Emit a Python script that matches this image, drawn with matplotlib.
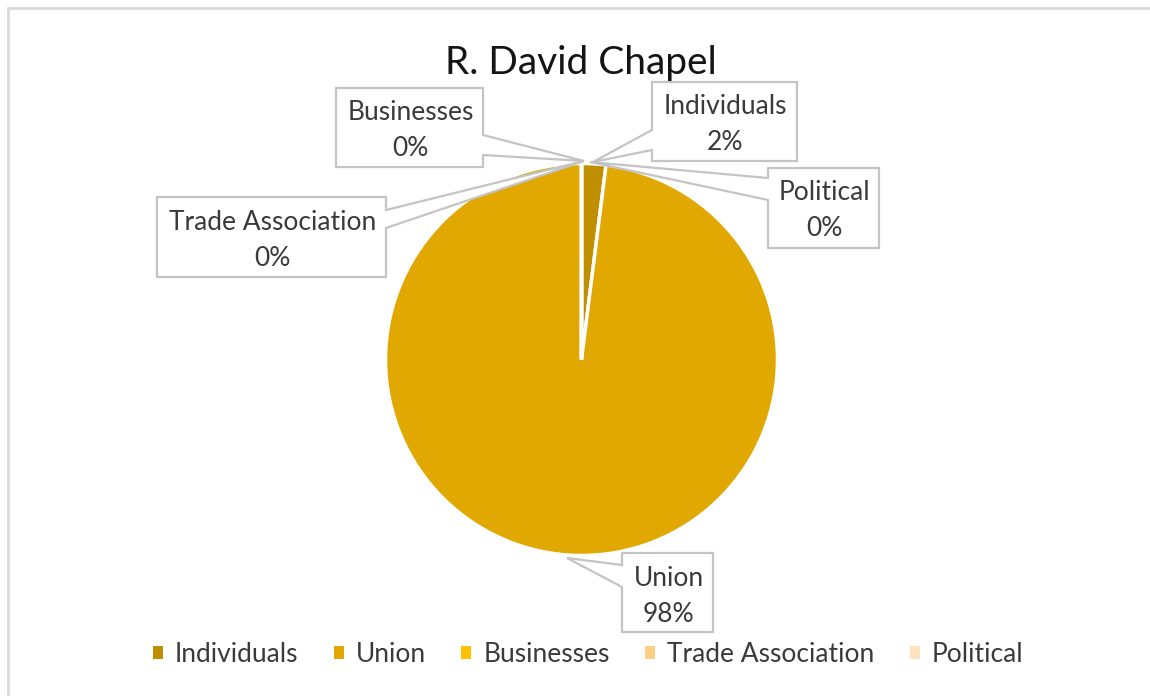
import matplotlib
matplotlib.use("Agg")
import matplotlib.pyplot as plt
from matplotlib.patches import Polygon, Rectangle, Patch

# ---- data ----
categories = ["Individuals", "Union", "Businesses", "Trade Association", "Political"]
values = [2, 98, 0, 0, 0]
pct_labels = ["2%", "98%", "0%", "0%", "0%"]
colors = ["#BF8F00", "#E0A800", "#FFC000", "#FFD084", "#FFE2BE"]
title = "R. David Chapel"

W, H = 1150, 696
fig = plt.figure(figsize=(W / 100, H / 100), dpi=100)
ax = fig.add_axes([0, 0, 1, 1])

def P(x, y):
    return (x, H - y)

FONT = "Lato"
TXT = "#3a3a3a"
LINE = "#C4C4C4"
FS = 19

# pie
cx, cy = P(581.5, 359.5)
wedges, _ = ax.pie(values, colors=colors, startangle=90, counterclock=False,
                   radius=196, center=(cx, cy), frame=True,
                   wedgeprops=dict(edgecolor="white", linewidth=2.5))
ax.set_xlim(0, W)
ax.set_ylim(0, H)
ax.set_aspect("equal")
ax.axis("off")

# chart frame
ax.add_patch(Rectangle(P(8, H + 10), W + 10, H + 2, fill=False,
                       edgecolor="#D9D9D9", lw=2, zorder=0))

# callouts: box (x0,y0,x1,y1), side, base coords along side, tip
callouts = {
    "Businesses": ((336, 88, 483, 167), "right", (135, 155), (584, 161)),
    "Individuals": ((652, 82, 797, 161), "left", (130, 150), (593, 162)),
    "Political": ((768, 168, 879, 248), "left", (178, 200), (590, 162)),
    "Trade Association": ((157, 197, 386, 277), "right", (210, 228), (584, 161)),
    "Union": ((622, 553, 713, 632), "left", (565, 587), (567, 558)),
}

for cat, pct in zip(categories, pct_labels):
    (x0, y0, x1, y1), side, (b0, b1), tip = callouts[cat]
    if side == "right":
        pts = [(x0, y0), (x1, y0), (x1, b0), tip, (x1, b1), (x1, y1), (x0, y1)]
    else:
        pts = [(x0, y0), (x1, y0), (x1, y1), (x0, y1), (x0, b1), tip, (x0, b0)]
    ax.add_patch(Polygon([P(*p) for p in pts], closed=True, facecolor="white",
                         edgecolor=LINE, lw=1.6, zorder=5, joinstyle="miter"))
    mx = (x0 + x1) / 2 + 1
    ax.text(*P(mx, y0 + 25), cat, ha="center", va="center", fontsize=FS,
            family=FONT, color=TXT, zorder=6)
    ax.text(*P(mx, y0 + 61), pct, ha="center", va="center", fontsize=FS,
            family=FONT, color=TXT, zorder=6)

# title
ax.text(*P(581, 63), title, ha="center", va="center", fontsize=28,
        family=FONT, color="#141414", zorder=6)

# legend
handles = [Patch(facecolor=c, edgecolor="none") for c in colors]
fig.legend(handles, categories, loc="center", bbox_to_anchor=(588 / W, 1 - 654 / H),
           ncol=5, frameon=False, handlelength=0.38, handleheight=0.38,
           handletextpad=0.45, columnspacing=1.35,
           prop=dict(family=FONT, size=FS), labelcolor=TXT)

fig.savefig("out.png", dpi=100)
